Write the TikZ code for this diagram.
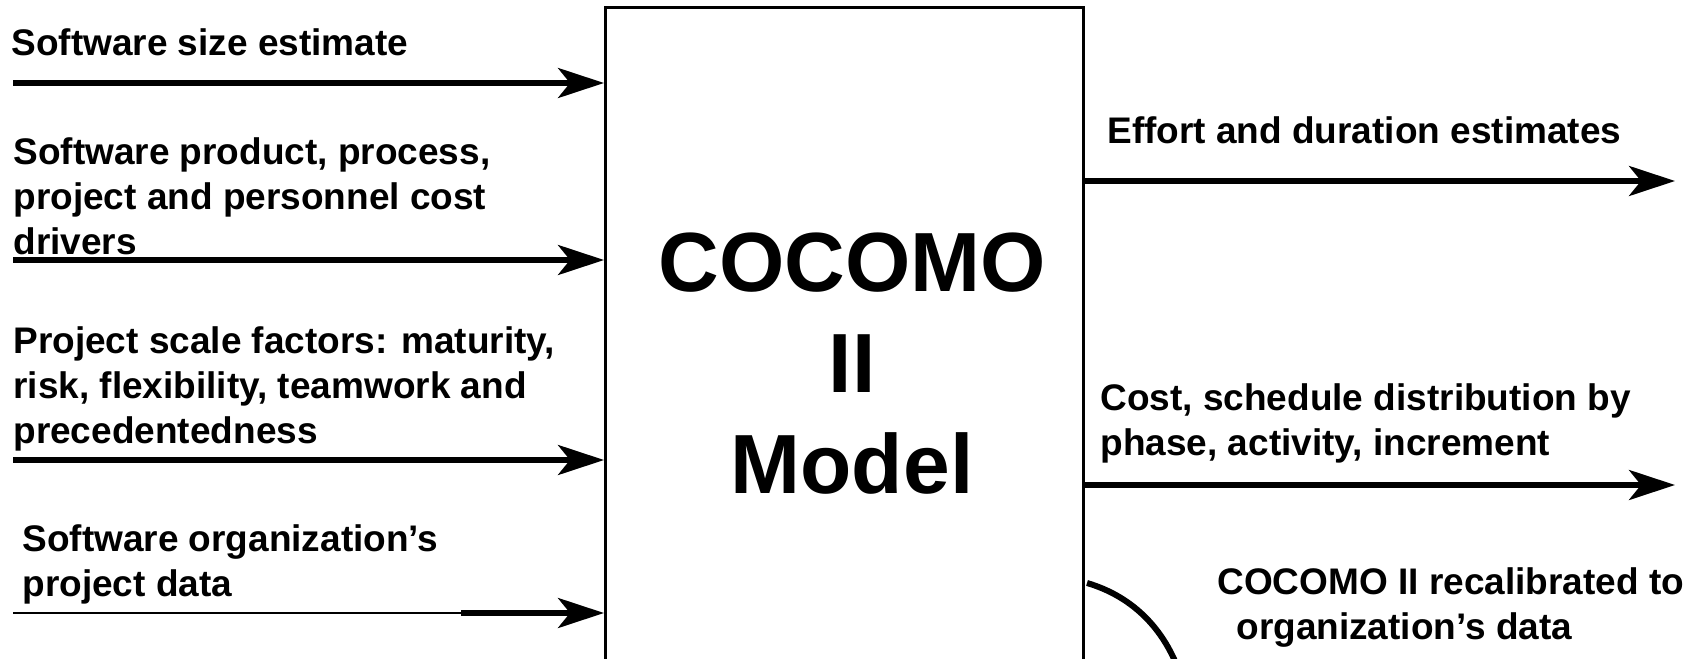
\documentclass[tikz,border=0pt]{standalone}
\usepackage{fontspec}
\setmainfont{Liberation Sans}
\usetikzlibrary{arrows.meta}
\begin{document}
\begin{tikzpicture}[x=0.5pt,y=-0.5pt,
  lbl/.style={font=\bfseries\fontsize{18.5}{22.3}\selectfont, align=left, inner sep=0pt, anchor=base west},
  flow/.style={line width=2.6pt, -{Stealth[length=23pt,width=15pt,inset=6pt]}},
  thin/.style={line width=0.8pt},
  loop/.style={line width=3pt},
  modelbox/.style={draw, line width=1.5pt, minimum width=239pt, minimum height=380pt, inner sep=0pt, anchor=north west},
  title/.style={font=\bfseries\fontsize{42}{50.5}\selectfont, align=center, inner sep=0pt}
 ]
\useasboundingbox (0,0) rectangle (1700,658);
\fill[white] (0,0) rectangle (1700,658);
\clip (0,0) rectangle (1700,658);
\node[modelbox] (model) at (604,6.5) {};
\node[title] (ttl) at (852,364) {COCOMO\\II\\Model};

% inputs (anchor = baseline of last line)
\node[lbl] (l1) at (11,56) {Software size estimate};
\node[lbl] (l2) at (13,254) {Software product, process,\\project and personnel cost\\drivers};
\node[lbl] (l3) at (13,443) {Project scale factors: maturity,\\risk, flexibility, teamwork and\\precedentedness};
\node[lbl] (l4) at (22,596) {Software organization’s\\project data};

\coordinate (s1) at (13,83);
\coordinate (s2) at (13,260);
\coordinate (s3) at (13,460);
\coordinate (s4) at (13,613);
\coordinate (s4b) at (461,613);
\draw[flow] (s1) -- (s1 -| model.west);
\draw[flow] (s2) -- (s2 -| model.west);
\draw[flow] (s3) -- (s3 -| model.west);
\draw[thin] (s4) -- (s4b);
\draw[flow] (s4b) -- (s4b -| model.west);

% outputs
\node[lbl] (r1) at (1107,143) {Effort and duration estimates};
\node[lbl] (r2) at (1100,455) {Cost, schedule distribution by\\phase, activity, increment};
\node[lbl] (r3) at (1217,639) {COCOMO II recalibrated to\\\hspace*{9.5pt}organization’s data};
\coordinate (e1) at (1675,181);
\coordinate (e2) at (1675,485);
\draw[flow] (model.east |- e1) -- (e1);
\draw[flow] (model.east |- e2) -- (e2);

% recalibration loop
\coordinate (c0) at (1087,583);
\coordinate (c1) at (1182,680);
\draw[loop] (c0) .. controls (1128,595) and (1165,625) .. (c1);
\end{tikzpicture}
\end{document}
